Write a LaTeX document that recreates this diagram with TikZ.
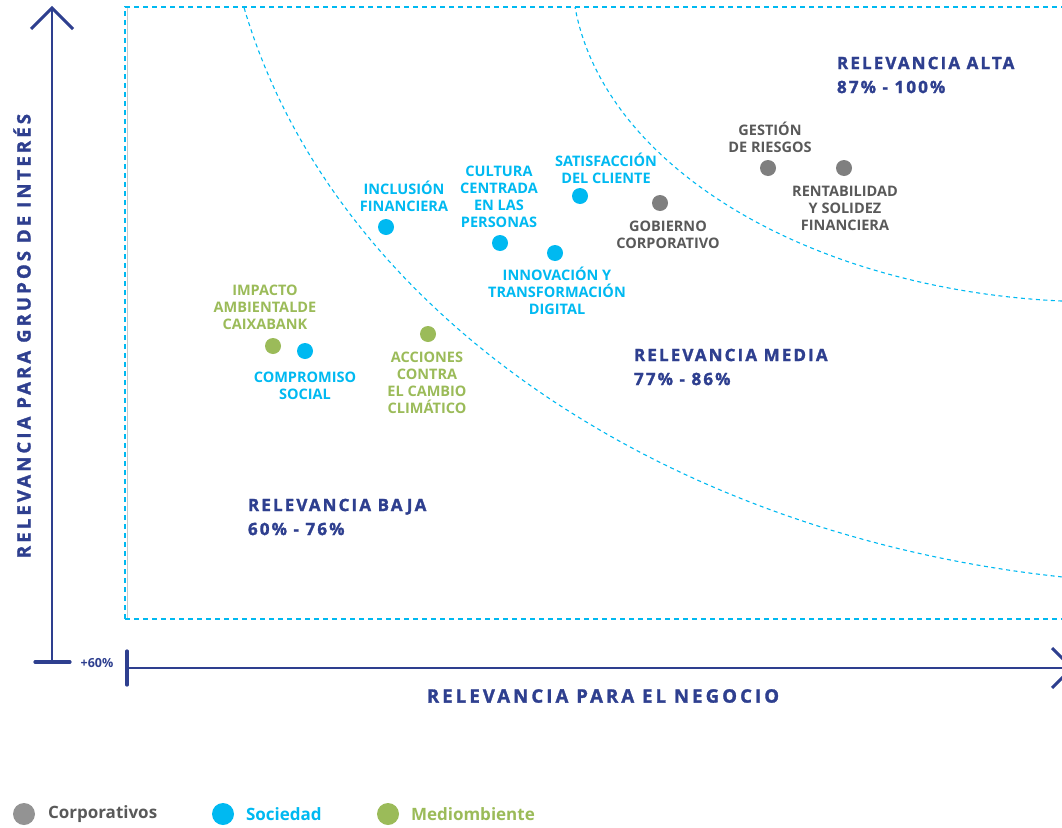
\documentclass[tikz,border=0pt]{standalone}
\usepackage{fontspec}
\setmainfont{Open Sans}
\newfontfamily\headfont[LetterSpace=12.5, BoldFeatures={FakeBold=1.6}]{Open Sans}
\newfontfamily\axisfont[LetterSpace=17, BoldFeatures={FakeBold=1.6}]{Open Sans}
\definecolor{navy}{HTML}{2E3F8F}
\definecolor{cyanc}{HTML}{00B9F1}
\definecolor{greenc}{HTML}{9BBB59}
\definecolor{dotgrey}{HTML}{7F7F7F}
\definecolor{textgrey}{HTML}{595959}
\definecolor{legendgrey}{HTML}{939393}
\definecolor{edgegrey}{HTML}{C8C8C8}
\begin{document}
\begin{tikzpicture}[x=1pt,y=-1pt,
  every node/.style={inner sep=0pt, outer sep=0pt},
  dot/.style={circle, minimum size=16pt, inner sep=0pt},
  corp/.style={dot, fill=dotgrey},
  soc/.style={dot, fill=cyanc},
  med/.style={dot, fill=greenc},
  lab/.style={align=center, font=\fontsize{14.5}{17}\selectfont\bfseries},
  corplab/.style={lab, text=textgrey},
  soclab/.style={lab, text=cyanc},
  medlab/.style={lab, text=greenc},
  region/.style={align=left, anchor=west, text=navy, font=\headfont\fontsize{17}{24}\selectfont\bfseries},
  axislab/.style={text=navy, font=\axisfont\fontsize{18.5}{20}\selectfont\bfseries},
  bound/.style={draw=cyanc, dash pattern=on 5pt off 4pt, line width=1.3pt},
  curvel/.style={draw=cyanc, dash pattern=on 4pt off 3.5pt, line width=1.1pt},
  axisline/.style={draw=navy, line width=1.4pt},
  axishead/.style={draw=navy, line width=3pt},
  axistick/.style={draw=navy, line width=3.2pt, line cap=round},
  legdot/.style={circle, minimum size=22pt, inner sep=0pt},
  legtext/.style={anchor=west, font=\fontsize{17}{20}\selectfont\bfseries}
]
\useasboundingbox (0,0) rectangle (1062,827);

% frame
\draw[edgegrey, line width=1.5pt] (127.5,8) -- (127.5,619);
\draw[bound] (125,619) -- (125,7) -- (1062,7);
\draw[bound] (125,619) -- (1062,619);

% curves
\begin{scope}
\clip (125,7) rectangle (1062,619);
\draw[curvel] plot[domain=98.1:167.6, samples=120] ({1200+978.8*cos(\x)}, {-150+734.3*sin(\x)});
\draw[curvel] plot[domain=94.1:173.6, samples=120] ({1100+528.3*cos(\x)}, {-30+331.9*sin(\x)});
\end{scope}

% vertical axis
\coordinate (vtop) at (52,8);
\coordinate (vbot) at (52,662);
\coordinate (vhl) at (31,29);
\coordinate (vhr) at (73,29);
\coordinate (vtl) at (35,662);
\coordinate (vtr) at (70,662);
\draw[axisline] (vbot) -- (vtop);
\draw[axishead] (vhl) -- (vtop) -- (vhr);
\draw[axistick] (vtl) -- (vtr);

% horizontal axis
\coordinate (hl) at (127,668);
\coordinate (hr) at (1072,668);
\coordinate (hhu) at (1052,648);
\coordinate (hhd) at (1052,688);
\coordinate (htt) at (127,651);
\coordinate (htb) at (127,685);
\draw[axisline] (hl) -- (hr);
\draw[axishead] (hhu) -- (hr) -- (hhd);
\draw[axistick] (htt) -- (htb);

\node[text=navy, font=\fontsize{12.5}{14}\selectfont\bfseries] (p60) at (97,663) {+60\%};

\node[axislab, rotate=90] (ylab) at (22,336) {RELEVANCIA PARA GRUPOS DE INTERÉS};
\node[axislab] (xlab) at (603,696) {RELEVANCIA PARA EL NEGOCIO};

% region labels
\node[region] (ralta) at (837,75) {RELEVANCIA ALTA\\87\% - 100\%};
\node[region] (rmedia) at (634,367) {RELEVANCIA MEDIA\\77\% - 86\%};
\node[region] (rbaja) at (248,517) {RELEVANCIA BAJA\\60\% - 76\%};

% points
\node[corp] (gest) at (768,168) {};
\node[corplab] (gestl) at (770,137) {GESTIÓN\\DE RIESGOS};
\node[corp] (rent) at (844,168) {};
\node[corplab] (rentl) at (845,208) {RENTABILIDAD\\Y SOLIDEZ\\FINANCIERA};
\node[corp] (gob) at (660,203) {};
\node[corplab] (gobl) at (668,235) {GOBIERNO\\CORPORATIVO};

\node[soc] (sat) at (580,196) {};
\node[soclab] (satl) at (606,168) {SATISFACCIÓN\\DEL CLIENTE};
\node[soc] (cult) at (500,243) {};
\node[soclab] (cultl) at (499,197) {CULTURA\\CENTRADA\\EN LAS\\PERSONAS};
\node[soc] (inno) at (555,253) {};
\node[soclab] (innol) at (557,291) {INNOVACIÓN Y\\TRANSFORMACIÓN\\DIGITAL};
\node[soc] (incl) at (386,227) {};
\node[soclab] (incll) at (404,196) {INCLUSIÓN\\FINANCIERA};
\node[soc] (comp) at (305,351) {};
\node[soclab] (compl) at (305,386) {COMPROMISO\\SOCIAL};

\node[med] (imp) at (273,346) {};
\node[medlab] (impl) at (265,307) {IMPACTO\\AMBIENTALDE\\CAIXABANK};
\node[med] (acc) at (428,334) {};
\node[medlab] (accl) at (427,383) {ACCIONES\\CONTRA\\EL CAMBIO\\CLIMÁTICO};

% legend
\node[legdot, fill=legendgrey] (lg1) at (24,814) {};
\node[legtext, text=textgrey] (lt1) at (48,814) {Corporativos};
\node[legdot, fill=cyanc] (lg2) at (223,814) {};
\node[legtext, text=cyanc] (lt2) at (246,814) {Sociedad};
\node[legdot, fill=greenc] (lg3) at (388,814) {};
\node[legtext, text=greenc] (lt3) at (411,814) {Mediombiente};
\end{tikzpicture}
\end{document}
